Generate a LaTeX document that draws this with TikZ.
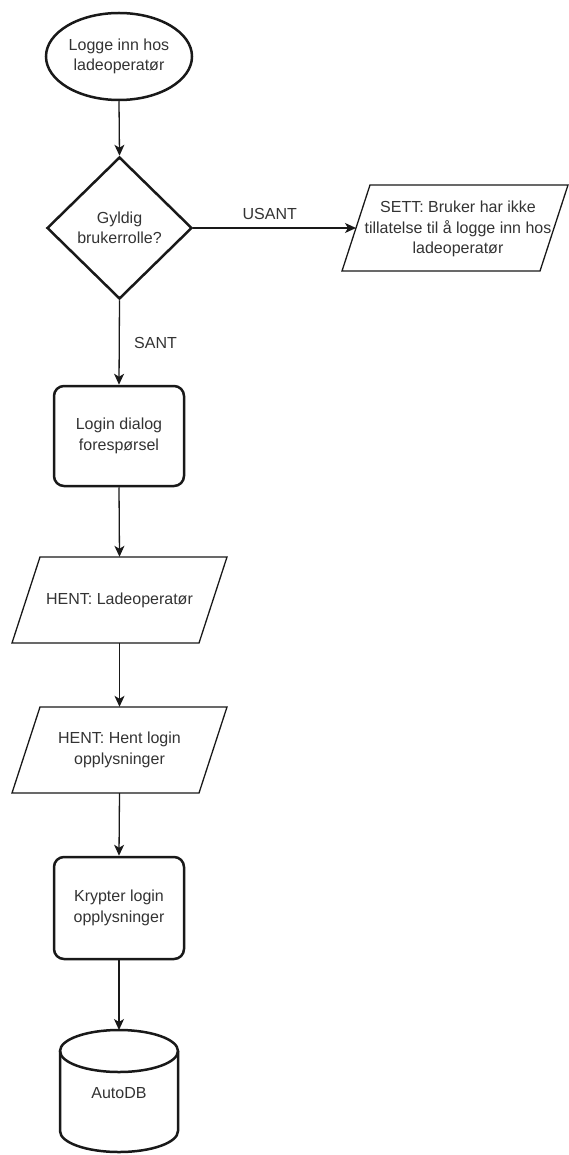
\documentclass[tikz,border=0pt]{standalone}
\usepackage{fontspec}
\setmainfont{Liberation Sans}
\usetikzlibrary{shapes.geometric,arrows.meta}
\begin{document}
\begin{tikzpicture}[x=1pt,y=-1pt,
  font=\fontsize{16}{20.5}\selectfont,
  txt/.style={text=black!80, align=center},
  thickshape/.style={draw=black!90, line width=2.5pt},
  thinshape/.style={draw=black!90, line width=1.3pt},
  conn/.style={draw=black!90, line width=1.3pt, -{Stealth[length=11pt,width=10pt,inset=3pt]}},
  lbl/.style={text=black!80, font=\fontsize{16}{20.5}\selectfont}]
\useasboundingbox (0,0) rectangle (568,1155);

% start ellipse
\node[ellipse, thickshape, minimum width=146pt, minimum height=87pt, inner sep=0pt, txt] (start) at (119,56.5) {Logge inn hos\\ladeoperatør};

% decision
\node[diamond, thickshape, minimum width=145pt, minimum height=142pt, inner sep=0pt, txt] (dec) at (119.5,228) {Gyldig\\brukerrolle?};

% SETT parallelogram
\draw[thinshape] (370,185) -- (568,185) -- (540,271) -- (342,271) -- cycle;
\node[txt, minimum width=198pt, minimum height=86pt, inner sep=0pt] (sett) at (458,229) {SETT: Bruker har ikke\\tillatelse til å logge inn hos\\ladeoperatør};
\coordinate (settin) at (356,228);

% login dialog
\node[rectangle, rounded corners=10pt, thickshape, minimum width=130pt, minimum height=100pt, inner sep=0pt, txt] (login) at (119,436) {Login dialog\\forespørsel};

% HENT: Ladeoperatør
\draw[thinshape] (40,557) -- (227,557) -- (199,643) -- (12,643) -- cycle;
\node[txt, minimum width=187pt, minimum height=86pt, inner sep=0pt] (hent1) at (119.5,600) {HENT: Ladeoperatør};

% HENT: Hent login opplysninger
\draw[thinshape] (40,707) -- (227,707) -- (199,793) -- (12,793) -- cycle;
\node[txt, minimum width=187pt, minimum height=86pt, inner sep=0pt] (hent2) at (119.5,750) {HENT: Hent login\\opplysninger};

% Krypter
\node[rectangle, rounded corners=10pt, thickshape, minimum width=130pt, minimum height=102pt, inner sep=0pt, txt] (krypt) at (119,908) {Krypter login\\opplysninger};

% AutoDB cylinder
\draw[thickshape] (119,1051) ellipse [x radius=59, y radius=21];
\draw[thickshape] (60,1051) -- (60,1131) arc[start angle=180, end angle=0, x radius=59, y radius=21] -- (178,1051);
\node[txt] (db) at (119,1093) {AutoDB};
\coordinate (dbtop) at (119,1030);

% connectors
\draw[conn] (start.south) -- (dec.north);
\draw[conn] (dec.east) -- node[lbl, pos=0.47, above=4pt] {USANT} (settin);
\draw[conn] (dec.south) -- node[lbl, midway, right=11pt] {SANT} (login.north);
\draw[conn] (login.south) -- (hent1.north);
\draw[conn] (hent1.south) -- (hent2.north);
\draw[conn] (hent2.south) -- (krypt.north);
\draw[conn] (krypt.south) -- (dbtop);
\end{tikzpicture}
\end{document}
